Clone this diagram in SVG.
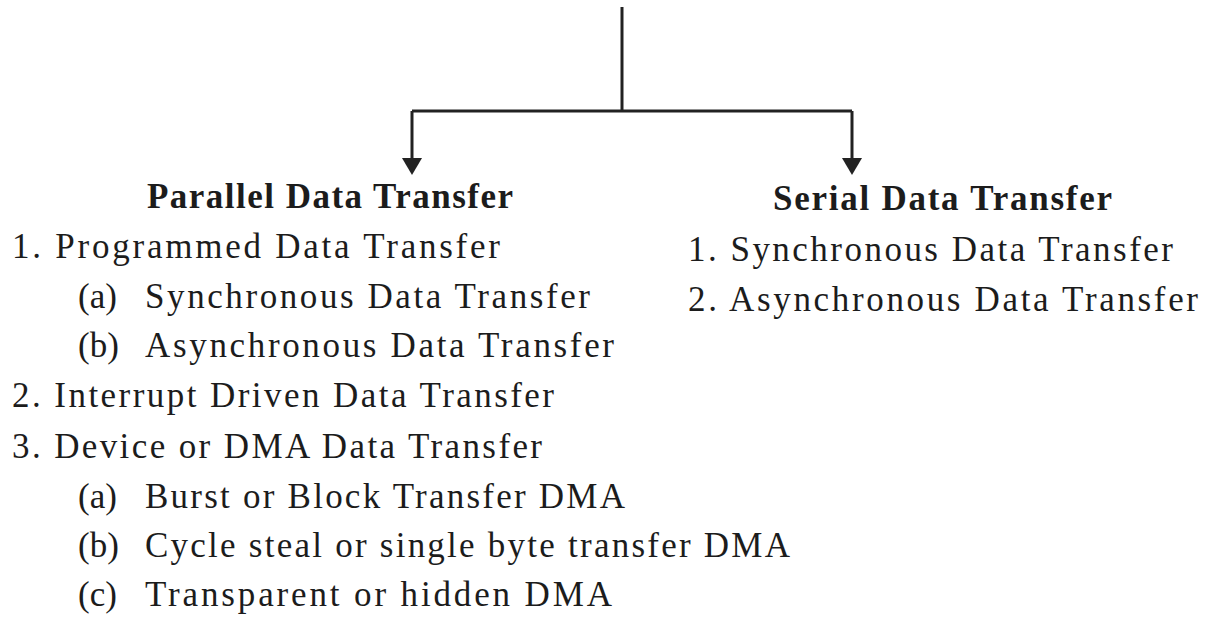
<svg xmlns="http://www.w3.org/2000/svg" width="1207" height="621" viewBox="0 0 1207 621">
<style>
.t{font-family:"Liberation Serif","Times New Roman",serif;font-size:35px;fill:#1c1c1c}
.h{font-weight:bold}
.c{fill:none;stroke:#222;stroke-width:3}
</style>
<defs>
<marker id="ah" viewBox="0 0 17 20" refX="0" refY="10" markerWidth="17" markerHeight="20" markerUnits="userSpaceOnUse" orient="auto">
<path d="M0,0 L17,10 L0,20 z" fill="#222"/>
</marker>
</defs>
<rect width="1207" height="621" fill="#fff"/>
<g id="connectors">
<path class="c" d="M622,7 V111"/>
<path class="c" d="M412,111 H852"/>
<path class="c" d="M412,111 V158" marker-end="url(#ah)"/>
<path class="c" d="M852,111 V158" marker-end="url(#ah)"/>
</g>
<g id="parallel">
<text class="t h" x="147" y="208" textLength="366" lengthAdjust="spacing">Parallel Data Transfer</text>
<text class="t" x="12" y="258" textLength="488" lengthAdjust="spacing">1. Programmed Data Transfer</text>
<text class="t" x="78" y="308">(a)</text>
<text class="t" x="145" y="308" textLength="445" lengthAdjust="spacing">Synchronous Data Transfer</text>
<text class="t" x="78" y="357">(b)</text>
<text class="t" x="145" y="357" textLength="469" lengthAdjust="spacing">Asynchronous Data Transfer</text>
<text class="t" x="12" y="407" textLength="542" lengthAdjust="spacing">2. Interrupt Driven Data Transfer</text>
<text class="t" x="12" y="458" textLength="530" lengthAdjust="spacing">3. Device or DMA Data Transfer</text>
<text class="t" x="78" y="508">(a)</text>
<text class="t" x="145" y="508" textLength="480" lengthAdjust="spacing">Burst or Block Transfer DMA</text>
<text class="t" x="78" y="557">(b)</text>
<text class="t" x="145" y="557" textLength="645" lengthAdjust="spacing">Cycle steal or single byte transfer DMA</text>
<text class="t" x="78" y="606">(c)</text>
<text class="t" x="145" y="606" textLength="467" lengthAdjust="spacing">Transparent or hidden DMA</text>
</g>
<g id="serial">
<text class="t h" x="773" y="210" textLength="339" lengthAdjust="spacing">Serial Data Transfer</text>
<text class="t" x="688" y="261" textLength="485" lengthAdjust="spacing">1. Synchronous Data Transfer</text>
<text class="t" x="688" y="311" textLength="510" lengthAdjust="spacing">2. Asynchronous Data Transfer</text>
</g>
</svg>
